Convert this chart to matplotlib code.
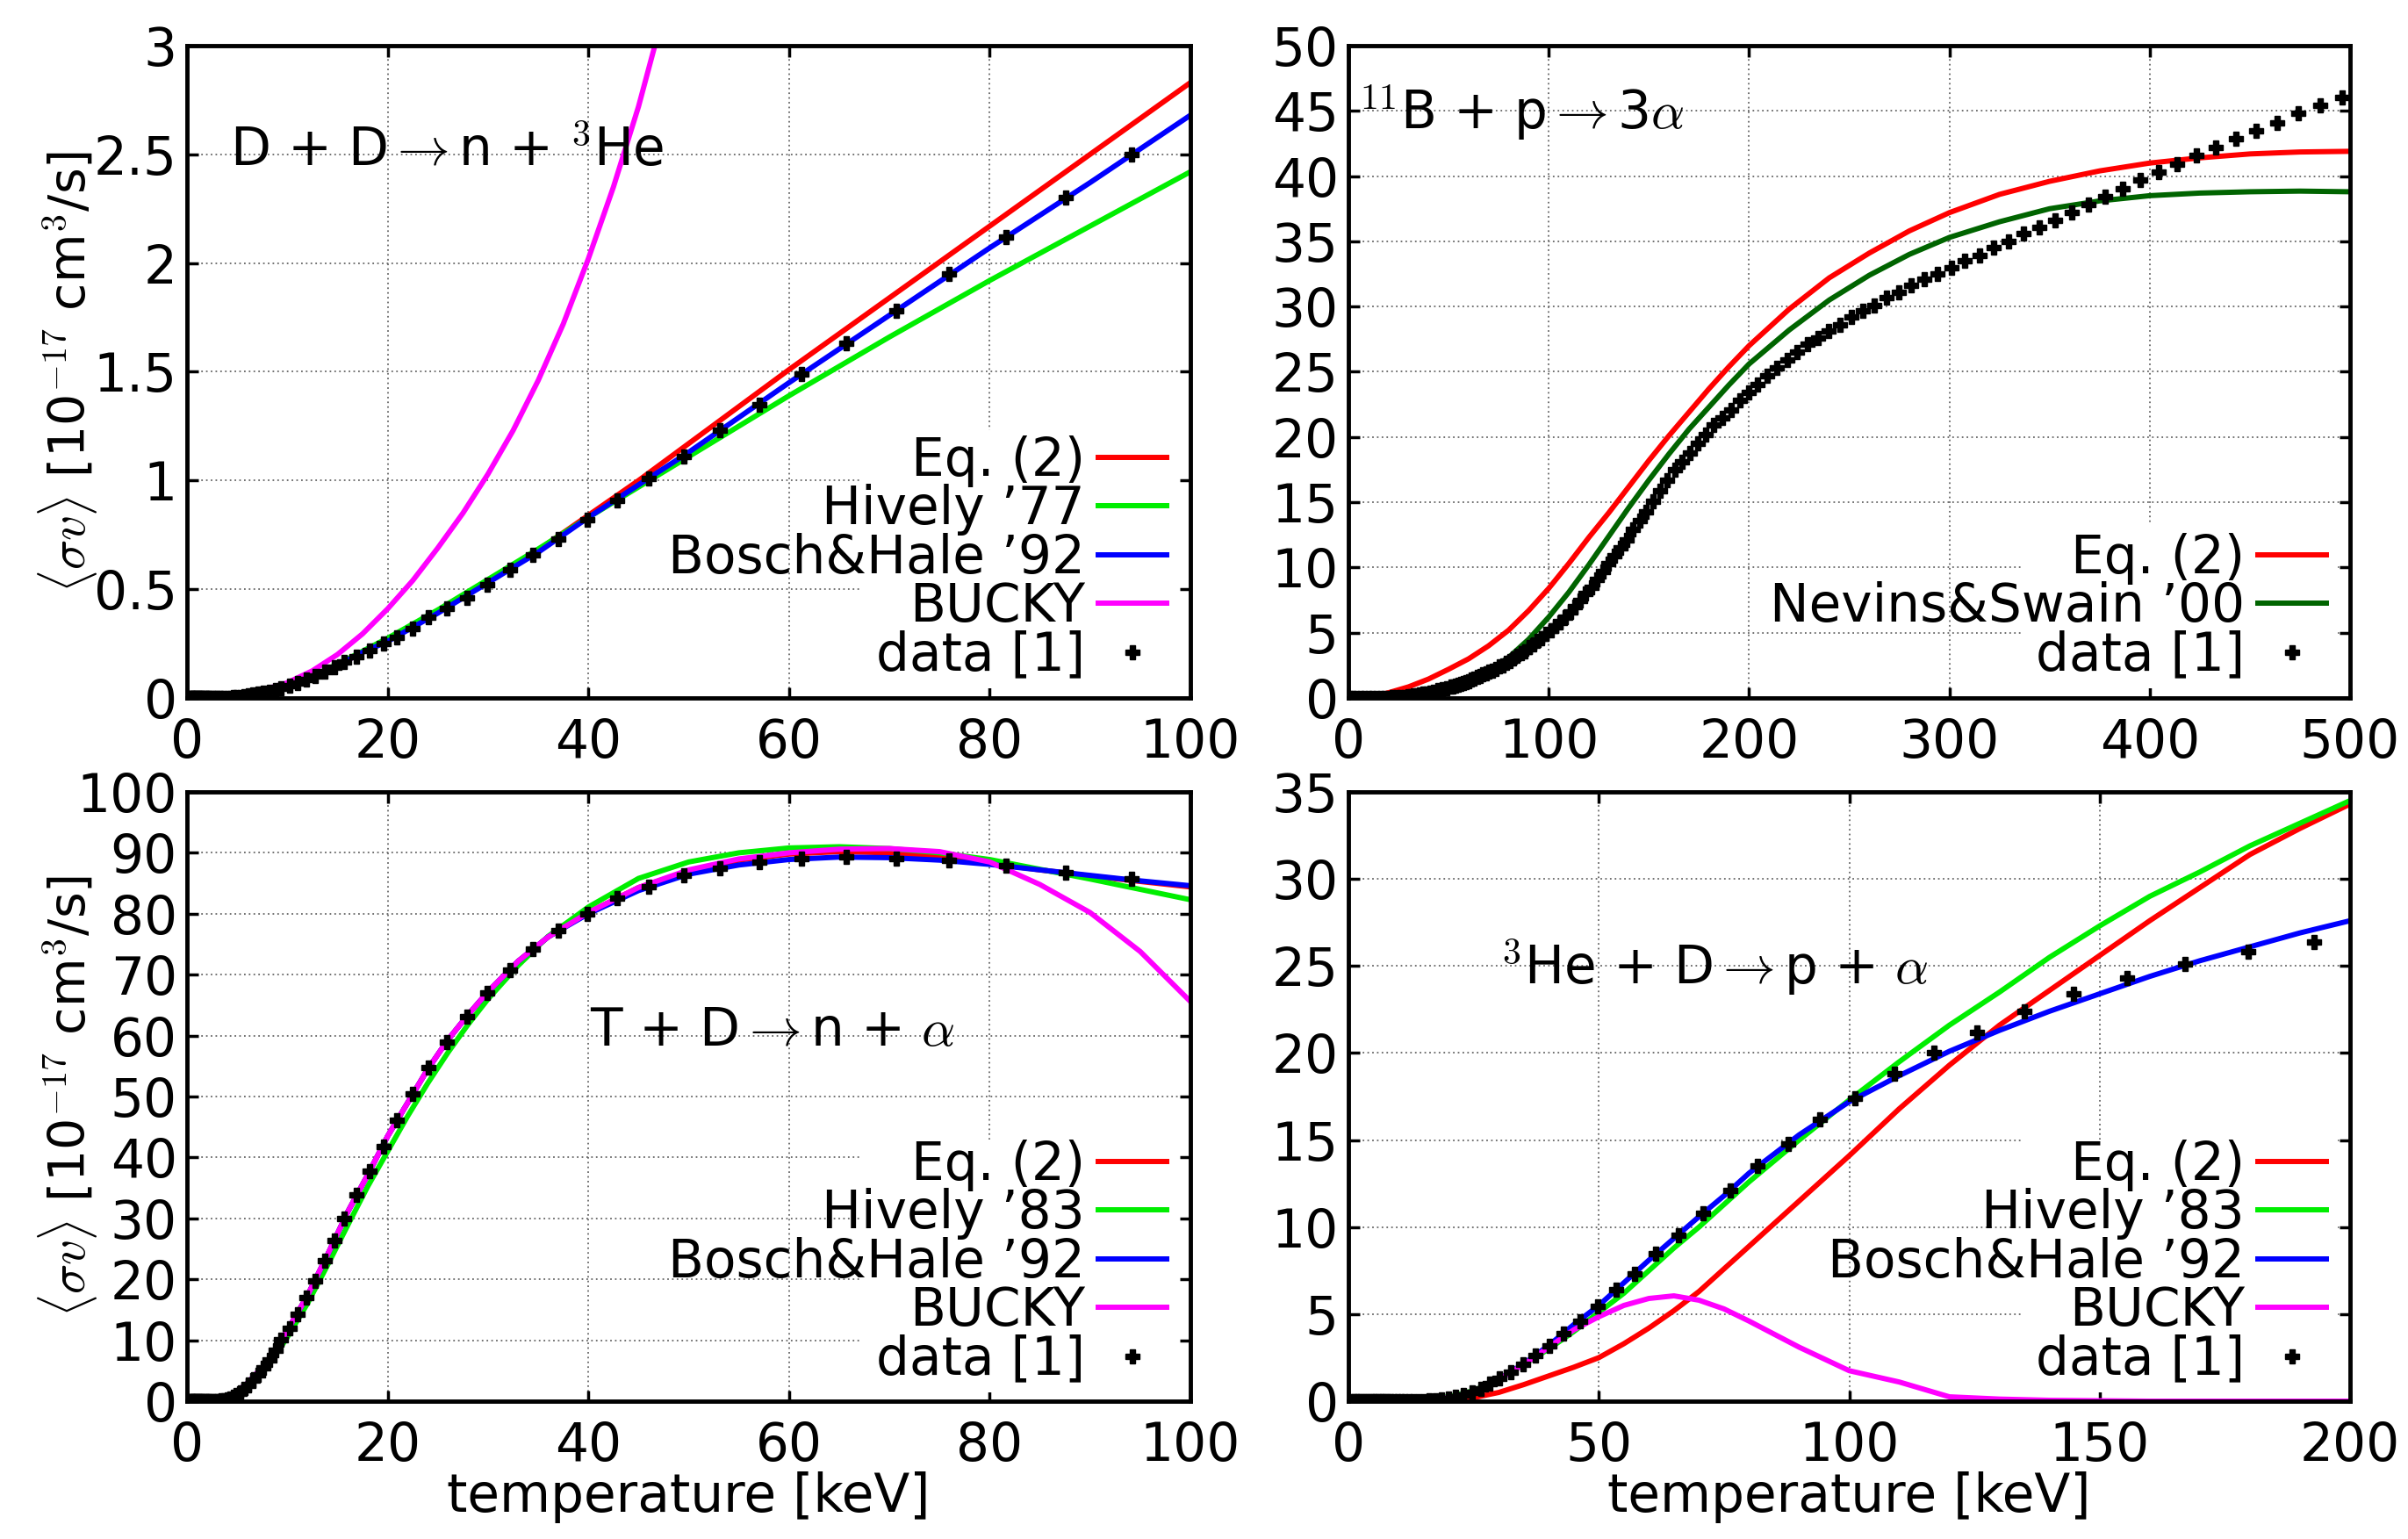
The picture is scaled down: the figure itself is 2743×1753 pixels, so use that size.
import matplotlib
matplotlib.use('Agg')
import matplotlib.pyplot as plt
from matplotlib.ticker import MultipleLocator, FormatStrFormatter
from matplotlib.patches import Rectangle

plt.rcParams['font.family'] = ['DejaVu Sans']
plt.rcParams['mathtext.fontset'] = 'cm'
plt.rcParams['font.size'] = 43

# ---------------- D + D -> n + 3He ----------------
dd_T = [0, 2.5, 5, 7.5, 10, 12.5, 15, 17.5, 20, 25, 30, 35, 40, 45, 50, 60, 70, 80, 90, 100]
dd_eq2 = [0, 0, 0.006, 0.026, 0.055, 0.095, 0.15, 0.21, 0.265, 0.395, 0.535, 0.68, 0.84, 1.0, 1.17,
          1.51, 1.84, 2.17, 2.50, 2.83]
dd_hively = [0, 0, 0.007, 0.028, 0.06, 0.10, 0.155, 0.215, 0.275, 0.405, 0.545, 0.685, 0.83, 0.97, 1.11,
             1.39, 1.66, 1.92, 2.17, 2.42]
dd_bosch = [0, 0, 0.006, 0.026, 0.055, 0.095, 0.15, 0.21, 0.26, 0.39, 0.53, 0.67, 0.83, 0.98, 1.13,
            1.45, 1.76, 2.07, 2.37, 2.68]
dd_bucky_T = [0, 2.5, 5, 7.5, 10, 12.5, 15, 17.5, 20, 22.5, 25, 27.5, 30, 32.5, 35, 37.5, 40, 42.5,
              45, 47.5]
dd_bucky = [0, 0, 0.012, 0.035, 0.07, 0.125, 0.2, 0.295, 0.41, 0.54, 0.69, 0.85, 1.03, 1.23, 1.46,
            1.72, 2.02, 2.35, 2.72, 3.15]

# temperatures of the tabulated data [1] (D+D and T+D)
t_data = [0.2, 0.3, 0.4, 0.5, 0.6, 0.7, 0.8, 0.9, 1.0, 1.1, 1.2, 1.3, 1.4, 1.5, 1.7, 1.8, 1.9, 2.1, 2.2,
          2.4, 2.6, 2.8, 3.0, 3.2, 3.4, 3.7, 4.0, 4.3, 4.6, 4.9, 5.3, 5.7, 6.1, 6.6, 7.1, 7.6, 8.2, 8.8,
          9.4, 10.2, 11.0, 11.9, 12.8, 13.7, 14.7, 15.7, 16.9, 18.2, 19.6, 20.9, 22.5, 24.1, 25.9, 27.9,
          29.9, 32.2, 34.5, 37.0, 39.9, 42.9, 46.0, 49.5, 53.1, 57.0, 61.2, 65.7, 70.7, 75.9, 81.6,
          87.6, 94.1]
dd_data = [0] * 22 + [0.0002, 0.0004, 0.0006, 0.001, 0.0015, 0.002, 0.003, 0.004, 0.006, 0.008,
                      0.011, 0.015, 0.019, 0.024, 0.03, 0.037, 0.045, 0.057, 0.07, 0.086,
                      0.10, 0.12, 0.14, 0.165, 0.19, 0.22, 0.25, 0.28, 0.32, 0.37,
                      0.41, 0.46, 0.52, 0.59, 0.66, 0.73, 0.82, 0.91, 1.01, 1.11,
                      1.23, 1.35, 1.49, 1.63, 1.78, 1.95, 2.12, 2.30, 2.50]

# ---------------- 11B + p -> 3 alpha ----------------
pb_T = [0, 10, 20, 30, 40, 50, 60, 70, 80, 90, 100, 110, 120, 130, 140, 150, 160, 170, 180, 190, 200,
        220, 240, 260, 280, 300, 325, 350, 375, 400, 425, 450, 475, 500]
pb_eq2 = [0, 0.05, 0.4, 0.85, 1.45, 2.2, 3.0, 4.0, 5.2, 6.7, 8.4, 10.3, 12.3, 14.2, 16.2, 18.2, 20.1,
          21.9, 23.7, 25.4, 27.0, 29.8, 32.2, 34.1, 35.8, 37.2, 38.6, 39.6, 40.4, 41.0, 41.4, 41.7,
          41.85, 41.9]
pb_nevins = [0, 0, 0.05, 0.15, 0.4, 0.8, 1.35, 2.1, 3.1, 4.5, 6.2, 8.1, 10.2, 12.4, 14.6, 16.7, 18.7,
             20.6, 22.3, 24.0, 25.6, 28.2, 30.5, 32.4, 34.0, 35.3, 36.5, 37.5, 38.1, 38.5, 38.7, 38.8,
             38.85, 38.8]
pb_data_T = [1, 2, 4, 6, 8, 10, 12, 14, 16, 18, 20, 22, 24, 26, 28, 29.7, 31.1, 32.5, 34.0, 35.6,
             37.3, 39.0, 40.8, 42.7, 44.7, 46.8, 48.9,
             51.2, 52.3, 53.5, 54.8, 56.0, 57.3, 58.6, 60.0, 61.3, 62.7, 64.2, 65.6, 67.1, 68.7, 70.3,
             71.9, 73.5, 75.2, 77.0, 78.7, 80.5, 82.4, 84.3, 86.2, 88.2, 90.2, 92.3, 94.4, 96.6, 98.8,
             101.1, 103.4, 105.8, 108.2, 110.7, 113.2, 115.8, 118.5, 121.2, 124.0, 126.9, 129.8, 132.8,
             135.8, 138.9, 142.1, 145.4, 148.7, 152.1, 155.6, 159.2, 162.9, 166.6, 170.4, 174.4, 178.4,
             182.5, 186.7, 191.0, 195.3, 199.8, 204.4, 209.1, 213.9, 218.9, 223.9, 229.1, 234.3, 239.7,
             245.2, 250.9, 256.6, 262.5, 268.6, 274.8, 281.1, 287.5, 294.2, 300.9, 307.8, 314.9, 322.2,
             329.6, 337.1, 344.9, 352.8, 360.9, 369.2, 377.7, 386.4, 395.3, 404.4, 413.7, 423.2, 432.9,
             442.9, 453.1, 463.5, 474.1, 485.0, 496.2]
pb_data = [0, 0, 0, 0, 0, 0, 0, 0, 0.01, 0.02, 0.03, 0.04, 0.06, 0.08, 0.1, 0.13, 0.16, 0.19, 0.23,
           0.27, 0.32, 0.37, 0.43, 0.5, 0.58, 0.65, 0.75,
           0.85, 0.9, 0.95, 1.0, 1.1, 1.15, 1.2, 1.3, 1.4, 1.5, 1.6, 1.7, 1.8, 1.9, 2.0,
           2.1, 2.2, 2.4, 2.5, 2.7, 2.8, 3.0, 3.2, 3.4, 3.6, 3.9, 4.1, 4.4, 4.6, 4.9,
           5.2, 5.5, 5.8, 6.2, 6.6, 7.0, 7.5, 8.0, 8.5, 9.1, 9.7, 10.3, 10.9,
           11.5, 12.1, 12.9, 13.6, 14.3, 15.1, 15.9, 16.7, 17.5, 18.1, 18.8, 19.5, 20.2,
           20.9, 21.5, 22.1, 22.8, 23.4, 24.0, 24.7, 25.3, 25.9, 26.5, 27.1, 27.6, 28.1,
           28.6, 29.2, 29.7, 30.1, 30.7, 31.1, 31.6, 32.1, 32.5, 33.0, 33.5, 33.9, 34.5,
           35.0, 35.6, 36.1, 36.6, 37.2, 37.8, 38.4, 39.0, 39.7, 40.3, 40.9, 41.6, 42.2,
           42.9, 43.5, 44.1, 44.8, 45.4, 46.0]

# ---------------- T + D -> n + alpha ----------------
dt_T = [0, 2, 4, 6, 8, 10, 12, 14, 16, 18, 20, 22, 24, 26, 28, 30, 33, 36, 40, 45, 50, 55, 60, 65, 70,
        75, 80, 85, 90, 95, 100]
dt_eq2 = [0, 0, 0.3, 2.9, 6.4, 11.6, 17.3, 24.0, 31.0, 37.1, 43.5, 49.0, 54.5, 59.3, 63.4, 67.2, 72.2,
          76.2, 80.2, 84.3, 87.0, 88.8, 89.8, 90.2, 90.0, 89.3, 88.3, 87.2, 86.2, 85.3, 84.4]
dt_hively = [0, 0, 0.2, 2.3, 5.5, 10.5, 16.0, 22.3, 28.8, 35.2, 41.0, 46.8, 52.2, 57.2, 61.8, 66.0,
             71.5, 76.3, 81.1, 85.8, 88.5, 90.0, 90.8, 91.0, 90.7, 90.0, 88.9, 87.3, 85.7, 84.0, 82.3]
dt_bosch = [0, 0, 0.3, 2.9, 6.4, 11.6, 17.3, 24.0, 31.0, 37.1, 43.5, 49.0, 54.5, 59.3, 63.4, 67.2, 72.2,
            76.2, 80.0, 83.8, 86.5, 88.0, 88.9, 89.3, 89.2, 88.8, 88.1, 87.2, 86.3, 85.4, 84.6]
dt_bucky = [0, 0, 0.3, 2.9, 6.4, 11.6, 17.3, 24.0, 31.0, 37.1, 43.5, 49.0, 54.5, 59.3, 63.4, 67.2, 72.2,
            76.2, 80.2, 84.3, 87.2, 89.0, 90.0, 90.6, 90.7, 90.2, 88.5, 84.8, 80.2, 73.8, 65.6]
dt_data = [0] * 21 + [0.02, 0.04, 0.07, 0.12, 0.2, 0.3, 0.5, 0.7, 1.0, 1.4,
                      2.0, 2.6, 3.4, 4.3, 5.5, 6.8, 8.4, 10.1, 12.0, 14.3,
                      17.0, 19.8, 23.0, 26.4, 29.9, 33.9, 37.7, 41.8, 46.1, 50.4,
                      54.8, 59.0, 63.1, 67.0, 70.7, 74.2, 77.3, 79.9, 82.5, 84.4,
                      86.3, 87.5, 88.5, 89.1, 89.3, 89.1, 88.8, 87.9, 86.7, 85.7]

# ---------------- 3He + D -> p + alpha ----------------
hd_T = [0, 10, 20, 25, 30, 35, 40, 45, 50, 55, 60, 65, 70, 75, 80, 90, 100, 110, 120, 130, 140, 150,
        160, 170, 180, 190, 200]
hd_eq2 = [0, 0, 0.02, 0.2, 0.5, 0.95, 1.45, 1.95, 2.5, 3.3, 4.2, 5.2, 6.3, 7.6, 8.9, 11.5, 14.1, 16.8,
          19.3, 21.6, 23.6, 25.6, 27.6, 29.5, 31.4, 32.9, 34.3]
hd_hively = [0, 0, 0.25, 0.6, 1.25, 2.1, 3.0, 4.0, 5.1, 6.2, 7.5, 8.8, 10.0, 11.3, 12.6, 15.0, 17.3, 19.5,
             21.6, 23.5, 25.5, 27.3, 29.0, 30.4, 31.9, 33.2, 34.5]
hd_bosch = [0, 0, 0.18, 0.55, 1.25, 2.15, 3.2, 4.4, 5.5, 6.8, 8.1, 9.35, 10.6, 11.8, 13.1, 15.3, 17.2,
            18.7, 20.1, 21.3, 22.4, 23.4, 24.4, 25.3, 26.1, 26.9, 27.6]
hd_bucky_T = [0, 10, 20, 25, 30, 35, 40, 45, 50, 55, 60, 65, 70, 75, 80, 90, 100, 110, 120, 130, 140,
              160, 200]
hd_bucky = [0, 0, 0.2, 0.55, 1.25, 2.1, 3.1, 4.1, 4.85, 5.5, 5.9, 6.05, 5.8, 5.3, 4.6, 3.1, 1.75, 1.1,
            0.25, 0.12, 0.05, 0, 0]
hd_data_T = [0.5, 1.0, 1.5, 2.0, 2.5, 3.0, 3.5, 4.0, 4.5, 5.0, 5.5, 6.0, 6.4, 6.9, 7.4, 7.9, 8.5, 9.1,
             9.8, 10.5, 11.3, 12.1, 13.0, 14.0, 15.0, 16.1, 17.3, 18.5, 19.9, 21.3, 22.9, 24.7, 26.4,
             28.2, 30.2, 32.5, 34.8, 37.3, 40.1, 43.0, 46.2, 49.8, 53.4, 57.2, 61.4, 65.9, 70.9, 76.2,
             81.7, 87.8, 94.2, 101.1, 109.0, 116.9, 125.5, 134.9, 144.8, 155.5, 167.1, 179.6, 192.8]
hd_data = [0] * 24 + [0.02, 0.04, 0.06, 0.1, 0.16, 0.24, 0.34, 0.49, 0.72, 1.0,
                      1.3, 1.66, 2.1, 2.6, 3.2, 3.9, 4.6, 5.45, 6.4, 7.3,
                      8.46, 9.55, 10.8, 12.1, 13.5, 14.8, 16.2, 17.4, 18.8, 20.0,
                      21.2, 22.4, 23.4, 24.3, 25.1, 25.8, 26.4]

RED, GREEN, BLUE, MAGENTA, DKGREEN = '#ff0000', '#00ee00', '#0000ff', '#ff00ff', '#006400'
LW = 4.3


def style(ax, xmax, xstep, ymax, ystep, box_top):
    ax.set_xlim(0, xmax)
    ax.set_ylim(0, ymax)
    ax.xaxis.set_major_locator(MultipleLocator(xstep))
    ax.yaxis.set_major_locator(MultipleLocator(ystep))
    ax.xaxis.set_major_formatter(FormatStrFormatter('%g'))
    ax.yaxis.set_major_formatter(FormatStrFormatter('%g'))
    ax.set_axisbelow(True)
    ax.grid(True, color='#666666', linestyle=(0, (1, 2)), linewidth=1.3)
    ax.tick_params(direction='in', length=9, width=2.5, top=True, right=True, labelsize=43)
    ax.tick_params(axis='x', pad=16)
    ax.tick_params(axis='y', pad=8)
    for s in ax.spines.values():
        s.set_linewidth(3.5)
    # white key box hides the grid under the legend (gnuplot opaque key)
    ax.add_patch(Rectangle((0.671, 0.015), 0.317, box_top - 0.015, transform=ax.transAxes,
                           facecolor='white', edgecolor='none', zorder=1))


def legend(ax):
    ax.legend(loc='lower right', bbox_to_anchor=(0.976, 0.025), markerfirst=False, frameon=False,
              handlelength=1.3, handletextpad=0.25, labelspacing=-0.06, borderpad=0,
              borderaxespad=0, numpoints=1, fontsize=43)


def data_points(ax, x, y):
    ax.plot(x, y, linestyle='none', marker='P', ms=12, color='black', mec='black', label='data [1]',
            zorder=3)


fig = plt.figure(figsize=(27.43, 17.53), dpi=100)
ax1 = fig.add_axes([0.07765, 0.54649, 0.4167, 0.42385])
ax2 = fig.add_axes([0.55997, 0.54649, 0.41597, 0.42385])
ax3 = fig.add_axes([0.07765, 0.08956, 0.4167, 0.39589])
ax4 = fig.add_axes([0.55997, 0.08956, 0.41597, 0.39589])

# D + D
style(ax1, 100, 20, 3, 0.5, 0.41)
ax1.plot(dd_T, dd_eq2, color=RED, lw=LW, label='Eq. (2)')
ax1.plot(dd_T, dd_hively, color=GREEN, lw=LW, label="Hively ’77")
ax1.plot(dd_T, dd_bosch, color=BLUE, lw=LW, label="Bosch&Hale ’92")
ax1.plot(dd_bucky_T, dd_bucky, color=MAGENTA, lw=LW, label='BUCKY')
data_points(ax1, t_data, dd_data)
ax1.text(4.3, 2.51, r'D + D$\rightarrow$n + $^3$He', ha='left', va='center')
legend(ax1)

# 11B + p
style(ax2, 500, 100, 50, 5, 0.265)
ax2.plot(pb_T, pb_eq2, color=RED, lw=LW, label='Eq. (2)')
ax2.plot(pb_T, pb_nevins, color=DKGREEN, lw=LW, label="Nevins&Swain ’00")
data_points(ax2, pb_data_T, pb_data)
ax2.text(5, 44.9, r'$^{11}$B + p$\rightarrow$3$\alpha$', ha='left', va='center')
legend(ax2)

# T + D
style(ax3, 100, 20, 100, 10, 0.43)
ax3.plot(dt_T, dt_eq2, color=RED, lw=LW, label='Eq. (2)')
ax3.plot(dt_T, dt_hively, color=GREEN, lw=LW, label="Hively ’83")
ax3.plot(dt_T, dt_bosch, color=BLUE, lw=LW, label="Bosch&Hale ’92")
ax3.plot(dt_T, dt_bucky, color=MAGENTA, lw=LW, label='BUCKY')
data_points(ax3, t_data, dt_data)
ax3.text(40.2, 60.7, r'T + D$\rightarrow$n + $\alpha$', ha='left', va='center')
legend(ax3)

# 3He + D
style(ax4, 200, 50, 35, 5, 0.43)
ax4.plot(hd_T, hd_eq2, color=RED, lw=LW, label='Eq. (2)')
ax4.plot(hd_T, hd_hively, color=GREEN, lw=LW, label="Hively ’83")
ax4.plot(hd_T, hd_bosch, color=BLUE, lw=LW, label="Bosch&Hale ’92")
ax4.plot(hd_bucky_T, hd_bucky, color=MAGENTA, lw=LW, label='BUCKY')
data_points(ax4, hd_data_T, hd_data)
ax4.text(30.3, 24.9, r'$^3$He + D$\rightarrow$p + $\alpha$', ha='left', va='center')
legend(ax4)

ylab = r'$\langle\sigma v\rangle$ [10$^{-17}$ cm$^3$/s]'
fig.text(0.0281, 0.7584, ylab, rotation=90, ha='center', va='center', fontsize=41)
fig.text(0.0281, 0.2875, ylab, rotation=90, ha='center', va='center', fontsize=41)
fig.text(0.286, 0.027, 'temperature [keV]', ha='center', va='center', fontsize=43)
fig.text(0.768, 0.027, 'temperature [keV]', ha='center', va='center', fontsize=43)

fig.savefig('out.png', dpi=100)
